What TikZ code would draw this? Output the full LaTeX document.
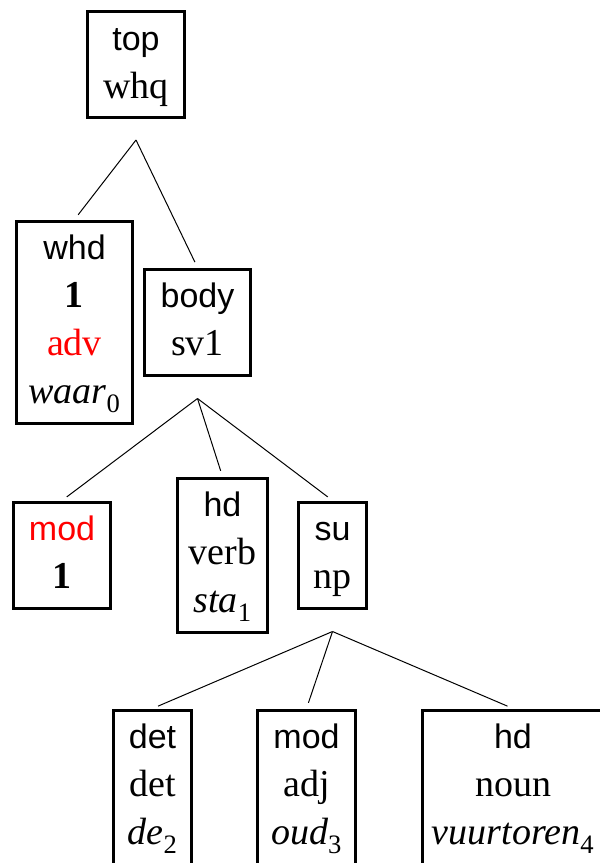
\documentclass[tikz,border=0pt]{standalone}
\usepackage{fontspec}
\setmainfont{Liberation Serif}
\setsansfont{Liberation Sans}
\usetikzlibrary{positioning}
\newcommand{\rel}[1]{{\sffamily\fontsize{34}{48}\selectfont #1}\strut}
\newcommand{\lex}[2]{\textit{#1}\textsubscript{#2}\strut}

\begin{document}
\begin{tikzpicture}[on grid,
cat/.style ={draw, line width=3pt, align=center, inner xsep=4pt, inner ysep=5pt, font=\fontsize{38}{48}\selectfont},
fork/.style={line width=1pt, shorten >=6pt}]
\useasboundingbox (0,0) rectangle (600pt,-863pt);
\clip (0,0) rectangle (600pt,-863pt);
\node[cat, minimum width=97pt] (top) at (136pt,-64.5pt) {\rel{top}\\whq\strut};
\node[cat, minimum width=116pt] (whd) [below left = 257.5pt and 61.5pt of top] {\rel{whd}\\\textbf{1}\\\textcolor{red}{adv}\\\lex{waar}{0}};
\node[cat, minimum width=106pt] (body) [right = 123pt of whd] {\rel{body}\\sv1\strut};
\node[cat, minimum width=97pt] (mod) [below left = 233pt and 135.5pt of body] {\rel{\color{red}mod}\\\textbf{1}\strut};
\node[cat, minimum width=90pt] (hd) [right = 160.5pt of mod] {\rel{hd}\\verb\\\lex{sta}{1}};
\node[cat, minimum width=68pt] (su) [right = 110pt of hd] {\rel{su}\\np\strut};
\node[cat, minimum width=78pt] (det) [below left = 232pt and 180pt of su] {\rel{det}\\det\\\lex{de}{2}};
\node[cat, minimum width=98pt] (adj) [right = 154pt of det] {\rel{mod}\\adj\\\lex{oud}{3}};
\node[cat, minimum width=181pt] (noun) [right = 206.5pt of adj] {\rel{hd}\\noun\\\lex{vuurtoren}{4}};
\coordinate[below = 21pt of top.south] (topfork);
\coordinate[below = 22pt of body.south] (bodyfork);
\coordinate[below = 22pt of su.south] (sufork);
\path (topfork) edge[fork] (whd.north)
                edge[fork] (body.north)
      (bodyfork) edge[fork] (mod.north)
                 edge[fork] (hd.north)
                 edge[fork] (su.north)
      (sufork) edge[fork] (det.north)
               edge[fork] (adj.north)
               edge[fork] (noun.north);
\end{tikzpicture}
\end{document}
